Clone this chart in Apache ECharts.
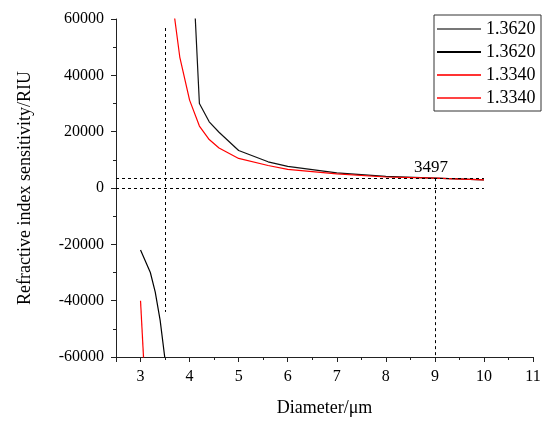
<!DOCTYPE html>
<html>
<head>
<meta charset="utf-8">
<script src="https://cdn.jsdelivr.net/npm/echarts@6/dist/echarts.min.js"></script>
<style>
  html, body { margin: 0; padding: 0; background: #fff; }
  #chart { width: 544px; height: 422px; }
</style>
</head>
<body>
<div id="chart"></div>
<script>
// n = 1.3620, positive and negative branches
var xPos1 = [4.0, 4.2, 4.4, 4.6, 5.0, 5.6, 6.0, 7.0, 8.0, 9.0, 10.0];
var yPos1 = [102000, 30000, 23500, 19800, 13300, 9300, 7700, 5400, 4100, 3497, 2850];
var xNeg1 = [3.0, 3.2, 3.3, 3.4, 3.5];
var yNeg1 = [-22000, -30000, -37000, -47000, -61000];
// n = 1.3340
var xPos2 = [3.6, 3.8, 4.0, 4.2, 4.4, 4.6, 5.0, 5.6, 6.0, 7.0, 8.0, 9.0, 10.0];
var yPos2 = [73000, 46500, 31200, 22000, 17200, 14200, 10500, 8000, 6600, 5000, 3900, 3497, 2850];
var xNeg2 = [3.0, 3.1];
var yNeg2 = [-40000, -73000];

// dashed guide lines: [x1, y1, x2, y2]
var guides = [
  [2.5, 3497, 10, 3497],
  [2.5, 0, 10, 0],
  [3.5, 56800, 3.5, -44000],
  [9, 3497, 9, -60000]
];
var markValue = 3497;
var markX = 8.92;

var font = '"Liberation Serif", "Times New Roman", serif';

function pairs(xs, ys) {
  return xs.map(function (x, i) { return [x, ys[i]]; });
}

var chart = echarts.init(document.getElementById('chart'));
var option = {
  animation: false,
  textStyle: { fontFamily: font },
  grid: { left: 116, right: 11, top: 19, bottom: 65 },
  legend: {
    orient: 'vertical',
    left: 434,
    top: 15,
    padding: [5, 1, 4, 3],
    itemGap: 5,
    itemWidth: 44,
    itemHeight: 2,
    icon: 'rect',
    borderColor: '#333',
    borderWidth: 1,
    textStyle: { fontFamily: font, fontSize: 18, color: '#000', lineHeight: 18 },
    data: [
      { name: '1.3620', itemStyle: { color: '#777' } },
      { name: '1.3620 ', itemStyle: { color: '#000' } },
      { name: '1.3340', itemStyle: { color: '#f33' } },
      { name: '1.3340 ', itemStyle: { color: '#f44' } }
    ]
  },
  xAxis: {
    type: 'value',
    min: 2.5,
    max: 11,
    splitNumber: 8,
    name: 'Diameter/μm',
    nameLocation: 'middle',
    nameGap: 42,
    nameTextStyle: { fontFamily: font, fontSize: 18, color: '#000' },
    axisLine: { onZero: false, lineStyle: { color: '#222', width: 1 } },
    axisTick: { length: 5, lineStyle: { color: '#222' } },
    minorTick: { show: true, splitNumber: 2, length: 3, lineStyle: { color: '#222' } },
    splitLine: { show: false },
    axisLabel: {
      fontFamily: font, fontSize: 16, color: '#000', margin: 12,
      formatter: function (v) { return Number.isInteger(v) ? String(v) : ''; }
    }
  },
  yAxis: {
    type: 'value',
    min: -60000,
    max: 60000,
    interval: 20000,
    name: 'Refractive index sensitivity/RIU',
    nameLocation: 'middle',
    nameGap: 82,
    nameTextStyle: { fontFamily: font, fontSize: 18, color: '#000' },
    axisLine: { show: true, onZero: false, lineStyle: { color: '#222', width: 1 } },
    axisTick: { show: true, length: 5, lineStyle: { color: '#222' } },
    minorTick: { show: true, splitNumber: 2, length: 3, lineStyle: { color: '#222' } },
    splitLine: { show: false },
    axisLabel: {
      fontFamily: font, fontSize: 16, color: '#000', margin: 12,
      formatter: function (v) { return String(v); }
    }
  },
  series: [
    {
      name: '1.3620', type: 'line', data: pairs(xPos1, yPos1),
      showSymbol: false, color: '#111', lineStyle: { width: 1.2 }
    },
    {
      name: '1.3620 ', type: 'line', data: pairs(xNeg1, yNeg1),
      showSymbol: false, color: '#000', lineStyle: { width: 1.2 }
    },
    {
      name: '1.3340', type: 'line', data: pairs(xPos2, yPos2),
      showSymbol: false, color: '#f00', lineStyle: { width: 1.2 }
    },
    {
      name: '1.3340 ', type: 'line', data: pairs(xNeg2, yNeg2),
      showSymbol: false, color: '#f00', lineStyle: { width: 1.2 }
    },
    {
      name: 'guides', type: 'line', data: [],
      markLine: {
        silent: true,
        symbol: ['none', 'none'],
        label: { show: false },
        lineStyle: { type: [3, 3], color: '#000', width: 1 },
        data: guides.map(function (g) {
          return [{ coord: [g[0], g[1]] }, { coord: [g[2], g[3]] }];
        })
      },
      markPoint: {
        silent: true,
        symbol: 'circle',
        symbolSize: 0,
        label: {
          show: true, position: 'top', distance: 2,
          fontFamily: font, fontSize: 17, color: '#000',
          formatter: String(markValue)
        },
        data: [{ coord: [markX, markValue], value: markValue }]
      }
    }
  ]
};
chart.setOption(option);
</script>
</body>
</html>
